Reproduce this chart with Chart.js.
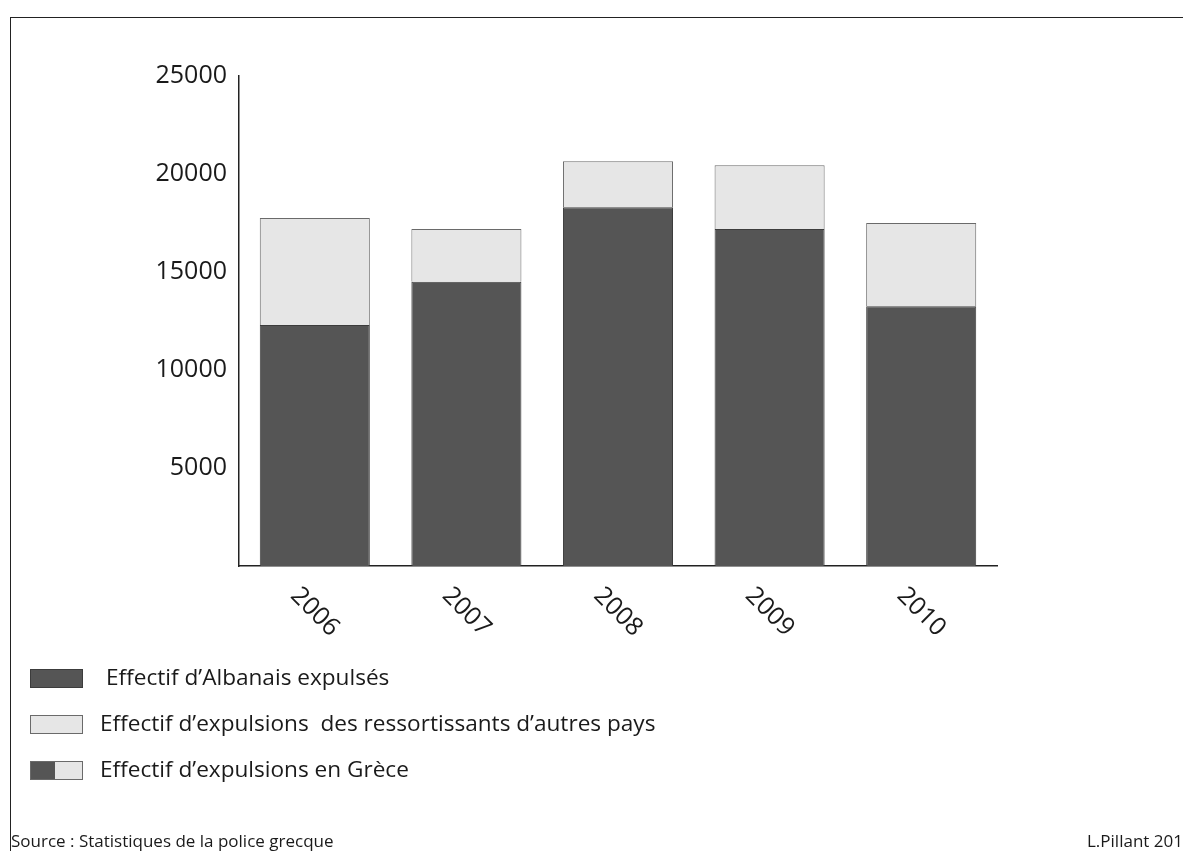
<!DOCTYPE html>
<html>
<head>
<meta charset="utf-8">
<script src="https://cdn.jsdelivr.net/npm/chart.js@4.4.0/dist/chart.umd.min.js"></script>
<style>
  html, body { margin: 0; padding: 0; background: #fff; }
  body { width: 1183px; height: 851px; position: relative; overflow: hidden; font-family: "Open Sans", sans-serif; color: #1a1a1a; }
  #frame { position: absolute; left: 10px; top: 17px; width: 1200px; height: 900px; border-left: 1.5px solid #222; border-top: 1.5px solid #222; }
  #wrap { position: absolute; left: 0; top: 0; width: 1183px; height: 851px; }
  .leg { position: absolute; left: 30px; height: 19px; width: 53px; box-sizing: border-box; }
  .legtxt { position: absolute; font-size: 22.6px; line-height: 23px; white-space: pre; }
  .foot { position: absolute; font-size: 17px; white-space: nowrap; top: 829px; }
</style>
</head>
<body>
<div id="frame"></div>
<div id="wrap"><canvas id="barchart" width="1183" height="851"></canvas></div>
<div id="legend"></div>
<div class="foot" style="left:11px">Source : Statistiques de la police grecque</div>
<div class="foot" style="left:1087px">L.Pillant 2015</div>
<script>
var years = ["2006", "2007", "2008", "2009", "2010"];
var albanais = [12300, 14500, 18300, 17200, 13250];
var autres = [5450, 2700, 2350, 3250, 4250];
var yTicks = [5000, 10000, 15000, 20000, 25000];
var legendLabels = [
  "Effectif d\u2019Albanais expulsés",
  "Effectif d\u2019expulsions  des ressortissants d\u2019autres pays",
  "Effectif d\u2019expulsions en Grèce"
];

var dark = "#555555";
var light = "#e6e6e6";

// rotated year labels under the x axis
var xLabels = {
  id: "xLabels",
  afterDraw: function(chart){
    var ctx = chart.ctx;
    var xs = chart.scales.x;
    ctx.save();
    ctx.font = "25px 'Open Sans'";
    ctx.fillStyle = "#1a1a1a";
    ctx.textAlign = "center";
    ctx.textBaseline = "middle";
    for (var i = 0; i < years.length; i++){
      var x = xs.getPixelForTick(i);
      ctx.save();
      ctx.translate(x, 612);
      ctx.rotate(Math.PI / 4);
      ctx.fillText(years[i], 0, 0);
      ctx.restore();
    }
    ctx.restore();
  }
};

var ctx = document.getElementById("barchart").getContext("2d");
var barChart = new Chart(ctx, {
  type: "bar",
  data: {
    labels: years,
    datasets: [
      {
        label: legendLabels[0],
        data: albanais,
        backgroundColor: dark,
        borderColor: "#3c3c3c",
        borderWidth: 1
      },
      {
        label: legendLabels[1],
        data: autres,
        backgroundColor: light,
        borderColor: "#6a6a6a",
        borderWidth: 1
      }
    ]
  },
  options: {
    responsive: false,
    animation: false,
    devicePixelRatio: 1,
    layout: { padding: { left: 0, top: 76, right: 186, bottom: 0 } },
    datasets: { bar: { barPercentage: 0.726, categoryPercentage: 1 } },
    plugins: { legend: { display: false }, tooltip: { enabled: false } },
    scales: {
      x: {
        stacked: true,
        grid: { display: false, drawTicks: false },
        border: { display: true, color: "#222", width: 1.5 },
        ticks: { display: false },
        afterFit: function(s){ s.height = 285; }
      },
      y: {
        stacked: true,
        min: 0,
        max: 25000,
        grid: { display: false, drawTicks: false },
        border: { display: true, color: "#222", width: 1.5 },
        afterBuildTicks: function(s){ s.ticks = yTicks.map(function(v){ return { value: v }; }); },
        ticks: {
          padding: 12,
          color: "#1a1a1a",
          font: { family: "'Open Sans'", size: 25 },
          callback: function(v){ return String(v); }
        },
        afterFit: function(s){ s.width = 239; }
      }
    }
  },
  plugins: [xLabels]
});

// legend built from the datasets
var legend = document.getElementById("legend");
var rows = [678, 724, 770];
var lefts = [106, 100, 100];
for (var i = 0; i < 3; i++){
  var box = document.createElement("div");
  box.className = "leg";
  box.style.top = (rows[i] - 9) + "px";
  if (i < 2){
    var ds = barChart.data.datasets[i];
    box.style.background = ds.backgroundColor;
    box.style.border = "1px solid " + ds.borderColor;
  } else {
    box.style.background = "linear-gradient(to right, " + dark + " 0, " + dark + " 47%, " + light + " 47%, " + light + " 100%)";
    box.style.border = "1px solid #6a6a6a";
  }
  legend.appendChild(box);
  var t = document.createElement("div");
  t.className = "legtxt";
  t.style.left = lefts[i] + "px";
  t.style.top = (rows[i] - 13) + "px";
  t.textContent = legendLabels[i];
  legend.appendChild(t);
}
</script>
</body>
</html>
